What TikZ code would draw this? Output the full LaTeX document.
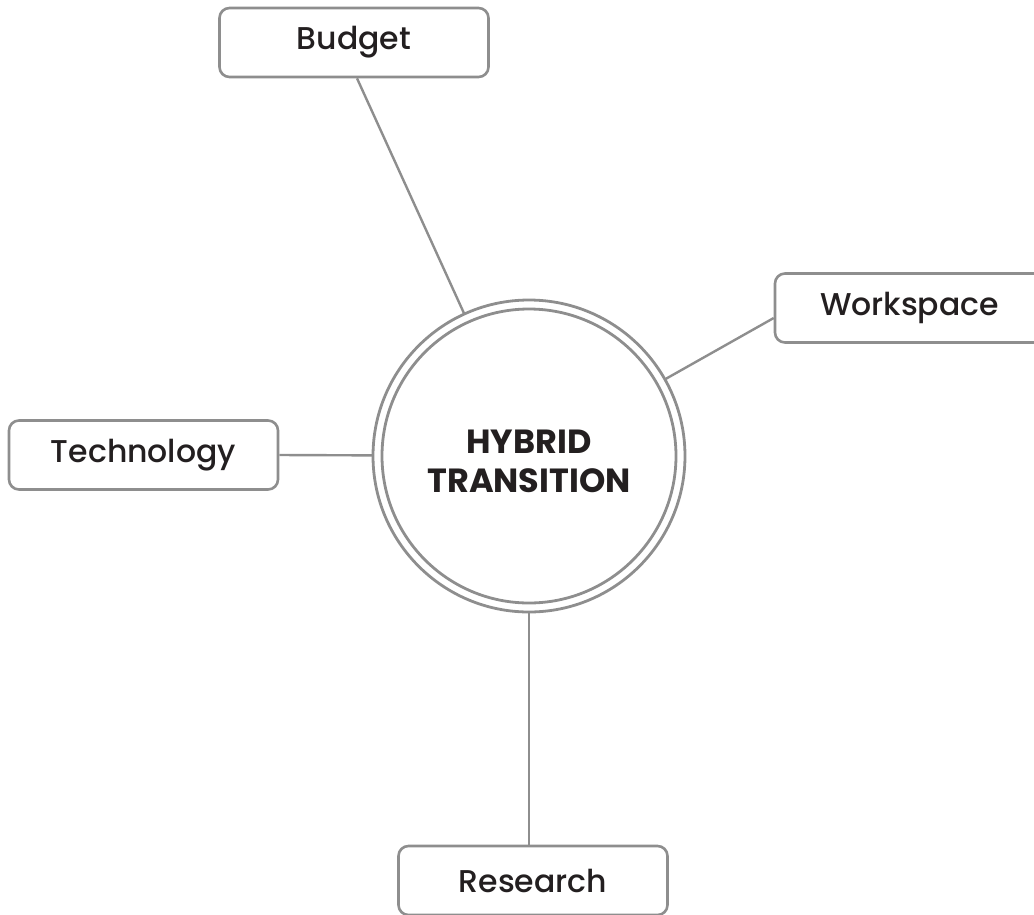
\documentclass[tikz,border=0pt]{standalone}
\usepackage{fontspec}
\setmainfont{Poppins}[UprightFont=* Medium, BoldFont=* Bold]
\usetikzlibrary{calc}
\definecolor{linegray}{HTML}{8E8E8E}
\definecolor{txt}{HTML}{231F20}
\tikzset{
  topic/.style={draw=linegray, line width=2.6pt, rounded corners=10pt, fill=white,
    minimum width=269pt, minimum height=69pt, inner sep=0pt, text=txt,
    font=\fontsize{31.5}{36}\selectfont},
  link/.style={draw=linegray, line width=2.4pt},
  hub/.style={circle, draw=linegray, line width=2.8pt, minimum size=312pt, inner sep=0pt,
    outer sep=0pt, text=txt, align=center, font=\fontsize{33.5}{39}\selectfont\bfseries}
}
\begin{document}
\begin{tikzpicture}[x=1pt,y=-1pt]
\useasboundingbox (0,0) rectangle (1034,914);
\clip (0,0) rectangle (1034,914);
\node[hub] (c) at (529,456) {};
\node[text=txt, align=center, font=\fontsize{33.5}{39}\selectfont\bfseries] (ct) at (529,461) {HYBRID\\TRANSITION};
\draw[draw=linegray, line width=2.8pt] (c.center) circle (147pt);
\node[topic] (budget) at (354,42.5) {Budget};
\node[topic] (tech) at (143.5,455) {Technology};
\node[topic] (work) at (909.5,308) {Workspace};
\node[topic] (research) at (533,880.5) {Research};
\coordinate (b1) at ($(budget.south)+(3,0)$);
\coordinate (w1) at ($(work.west)+(0,10)$);
\draw[link] (b1) -- (c);
\draw[link] (w1) -- (c);
\draw[link] (tech.east) -- (c);
\draw[link] (c.south) -- (c.south |- research.north);
\end{tikzpicture}
\end{document}
